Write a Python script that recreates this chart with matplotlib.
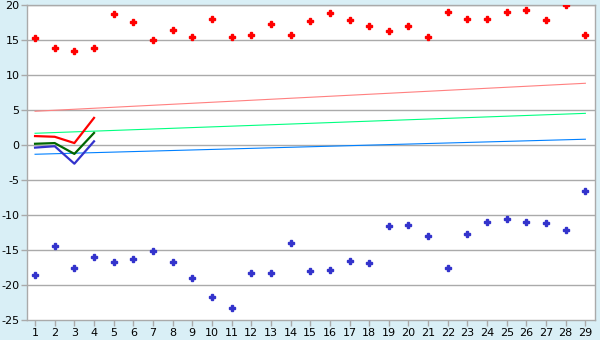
import numpy as np
import matplotlib.pyplot as plt

# data
x = list(range(1, 30))
red_pts = [15.3, 13.9, 13.4, 13.9, 18.7, 17.6, 15.1, 16.4, 15.4, 18.0,
           15.4, 15.7, 17.3, 15.7, 17.7, 18.9, 17.9, 17.0, 16.3, 17.0,
           15.4, 19.0, 18.0, 18.0, 19.1, 19.3, 17.9, 20.0, 15.7]
blue_pts = [-18.6, -14.4, -17.6, -16.0, -16.7, -16.3, -15.1, -16.7, -19.0, -21.7,
            -23.3, -18.3, -18.3, -14.0, -18.0, -17.9, -16.6, -16.9, -11.6, -11.4,
            -13.0, -17.6, -12.7, -11.0, -10.6, -11.0, -11.1, -12.1, -6.6]

# trend lines (start / end)
trend_x = [1, 29]
pink_trend = [4.85, 8.85]
green_trend = [1.7, 4.55]
lblue_trend = [-1.3, 0.85]

# short thick lines over first four points
short_x = [1, 2, 3, 4]
red_line = [1.3, 1.2, 0.3, 3.9]
dgreen_line = [0.2, 0.3, -1.25, 1.75]
blue_line = [-0.35, -0.15, -2.65, 0.55]

fig = plt.figure(figsize=(6, 3.4), dpi=100, facecolor='#D9EFF6')
ax = fig.add_axes([27/600, 1-320/340, (595-27)/600, (320-5.3)/340])
ax.set_facecolor('white')

for yv in range(-20, 21, 5):
    ax.axhline(yv, color='#AAAAAA', lw=1, zorder=1)

ax.plot(trend_x, pink_trend, color='#FF8080', lw=0.8, zorder=2)
ax.plot(trend_x, green_trend, color='#00FF80', lw=0.8, zorder=2)
ax.plot(trend_x, lblue_trend, color='#0080FF', lw=0.8, zorder=2)

ax.plot(short_x, red_line, color='#FF0000', lw=1.6, zorder=3)
ax.plot(short_x, dgreen_line, color='#006600', lw=1.6, zorder=3)
ax.plot(short_x, blue_line, color='#3333CC', lw=1.6, zorder=3)

ax.plot(x, red_pts, ls='none', marker='P', ms=4, color='#FF0000', mec='#FF0000', zorder=4)
ax.plot(x, blue_pts, ls='none', marker='P', ms=4, color='#3333CC', mec='#3333CC', zorder=4)

ax.set_xlim(0.59, 29.49)
ax.set_ylim(-25, 20)
ax.set_xticks(x)
ax.set_yticks(range(-25, 21, 5))
ax.set_yticklabels([str(v) for v in range(-25, 21, 5)])
for s in ax.spines.values():
    s.set_color('#AAAAAA')
    s.set_linewidth(1)
ax.tick_params(axis='both', colors='#AAAAAA', labelcolor='black', labelsize=8, length=4, width=1, pad=1.5)

fig.savefig('out.png', dpi=100, facecolor=fig.get_facecolor())
